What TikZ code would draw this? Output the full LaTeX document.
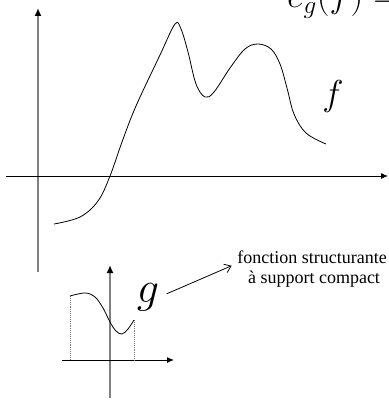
\documentclass[tikz,border=0pt]{standalone}
\usepackage{fix-cm}
\usepackage{fontspec}
\setmainfont{Liberation Serif}
\usetikzlibrary{arrows.meta, positioning}

\begin{document}
\begin{tikzpicture}[
  x=1pt, y=-1pt,
  yaxis/.style={draw=gray, line width=2pt, -{Latex[length=8pt, width=7pt, color=black]}},
  xaxis/.style={draw=black, line width=1pt, -{Latex[length=7pt, width=6pt]}},
  curve/.style={draw=black, line width=0.8pt},
  supp/.style={draw=gray, densely dotted, line width=0.9pt},
  letter/.style={inner sep=0pt, font=\fontsize{36}{40}\selectfont},
  note/.style={inner sep=0pt, font=\fontsize{18}{20}\selectfont},
  arr/.style={-{Straight Barb[length=6pt, width=9pt]}, line width=0.8pt}
]
  \useasboundingbox (0,0) rectangle (388,401);
  \clip (0,0) rectangle (388,401);

  % graph of f
  \draw[yaxis] (38,272) -- (38,8);
  \draw[xaxis] (6,176) -- (388,176);
  \draw[curve] plot[smooth, tension=0.6] coordinates {
    (54,224) (80,217) (98,201) (110,176) (122,142) (136,106)
    (160,55) (175,24) (181,29) (188,52) (196,84)
    (205,97) (214,92) (230,68) (245,49) (258,44) (271,49)
    (280,64) (287,88) (294,114) (306,133) (326,144)};
  \node[letter] (flab) at (333,97) {$f$};

  % structuring function g
  \draw[yaxis, line width=1.8pt] (110,398) -- (110,265);
  \draw[xaxis] (62,360) -- (174,360);
  \draw[supp] (70,296) -- (70,360);
  \draw[supp] (134,320) -- (134,360);
  \draw[curve] plot[smooth, tension=0.6] coordinates {
    (70,296) (85,293) (95,297) (103,308) (110,322) (116,331) (122,334)
    (128,329) (134,320)};
  \node[letter, font=\fontsize{44}{48}\selectfont] (glab) at (148,297) {$g$};

  \node[note, anchor=base] (fs1) at (312,263) {fonction structurante};
  \node[note, anchor=base] (fs2) at (314,283) {à support compact};
  \draw[arr, shorten <=8pt, shorten >=6pt] (glab.east) -- (fs1.south west);

  \node[letter, anchor=base west] (eg) at (287,8) {$e_g(f) =$};
\end{tikzpicture}
\end{document}
